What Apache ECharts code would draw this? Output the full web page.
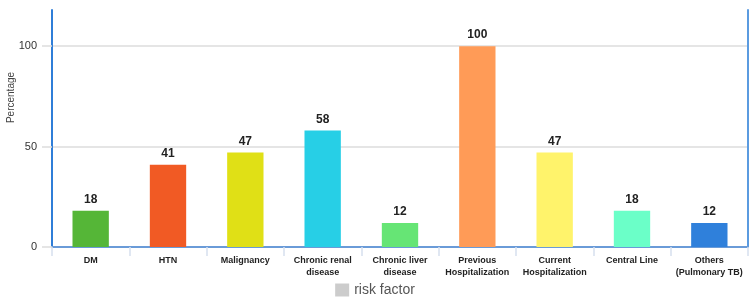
<!DOCTYPE html>
<html>
<head>
<meta charset="utf-8">
<script src="https://cdn.jsdelivr.net/npm/echarts@6/dist/echarts.min.js"></script>
<style>
  html, body { margin: 0; padding: 0; background: #fff; }
  #chart { width: 750px; height: 302px; }
</style>
</head>
<body>
<div id="chart"></div>
<script>
// 类别与数值
var categories = ['DM', 'HTN', 'Malignancy', 'Chronic renal\ndisease', 'Chronic liver\ndisease',
    'Previous\nHospitalization', 'Current\nHospitalization', 'Central Line', 'Others\n(Pulmonary TB)'];
var values = [18, 41, 47, 58, 12, 100, 47, 18, 12];
var barColors = ['#55b637', '#f15a24', '#e0e016', '#27cfe6', '#66e575', '#ff9b57', '#fff36b', '#6bffc8', '#2f80db'];
var seriesName = 'risk factor';

var chart = echarts.init(document.getElementById('chart'), null, { renderer: 'canvas' });

var option = {
    animation: false,
    textStyle: { fontFamily: 'Liberation Sans, Arial, sans-serif' },
    grid: {
        left: 52,
        right: 2,
        top: 10,
        bottom: 55,
        outerBoundsMode: 'none'
    },
    legend: {
        bottom: 0,
        left: 'center',
        icon: 'rect',
        itemWidth: 14,
        itemHeight: 13,
        itemGap: 5,
        data: [{ name: seriesName, itemStyle: { color: '#cccccc' } }],
        textStyle: { color: '#555', fontSize: 14 }
    },
    xAxis: {
        type: 'category',
        data: categories,
        axisLine: { lineStyle: { color: '#6a9bd8', width: 2 } },
        axisTick: { show: true, length: 9, lineStyle: { color: '#d6e0ee', width: 1.5 } },
        axisLabel: {
            color: '#222',
            fontSize: 9,
            fontWeight: 'bold',
            margin: 8,
            lineHeight: 12,
            interval: 0
        }
    },
    yAxis: [{
        type: 'value',
        min: 0,
        max: 118,
        interval: 50,
        name: 'Percentage',
        nameLocation: 'middle',
        nameRotate: 90,
        nameGap: 36,
        nameMoveOverlap: false,
        nameTextStyle: { color: '#444', fontSize: 10, padding: [0, 0, 0, 62] },
        axisLine: { show: true, lineStyle: { color: '#2f7ed8', width: 2 } },
        axisTick: { show: true, length: 10, lineStyle: { color: '#dddddd', width: 1.5 } },
        axisLabel: { color: '#333', fontSize: 11, margin: 15, showMaxLabel: false },
        splitLine: { show: true, showMaxLine: false, lineStyle: { color: '#dddddd', width: 1.5 } }
    }, {
        type: 'value',
        position: 'right',
        min: 0,
        max: 118,
        axisLine: { show: true, lineStyle: { color: '#5b9be0', width: 2 } },
        axisTick: { show: false },
        axisLabel: { show: false },
        splitLine: { show: false }
    }],
    series: [{
        name: seriesName,
        type: 'bar',
        barWidth: '47%',
        data: values.map(function (v, i) {
            return { value: v, itemStyle: { color: barColors[i] } };
        }),
        label: {
            show: true,
            position: 'top',
            distance: 5,
            color: '#222',
            fontSize: 12,
            fontWeight: 'bold'
        }
    }]
};

chart.setOption(option);
</script>
</body>
</html>
